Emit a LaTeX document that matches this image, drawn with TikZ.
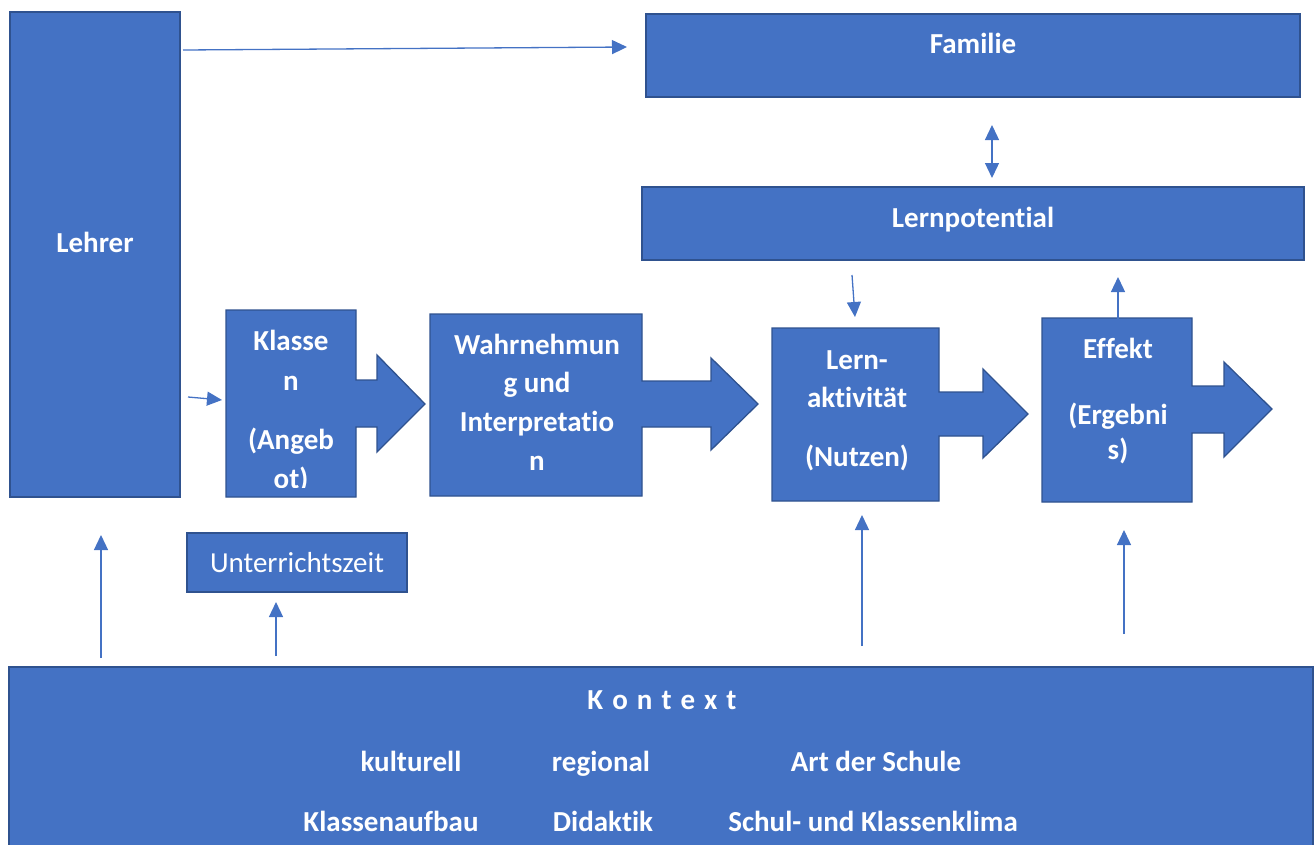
\documentclass[tikz,border=0pt]{standalone}
\usepackage{fontspec}
\setmainfont[Ligatures=NoCommon]{Carlito}
\usetikzlibrary{arrows.meta}
\definecolor{boxfill}{HTML}{4472C4}
\definecolor{boxline}{HTML}{2F528F}
\begin{document}
\begin{tikzpicture}[x=1pt,y=-1pt,
  boxst/.style={draw=boxline, fill=boxfill, line width=1.3pt},
  anchorbox/.style={inner sep=0pt, outer sep=0pt},
  lbl/.style={text=white, font=\bfseries\fontsize{29}{33}\selectfont, inner sep=0pt, text height=18pt, text depth=0pt},
  lblr/.style={text=white, font=\fontsize{29}{33}\selectfont, inner sep=0pt, text height=18pt, text depth=0pt},
  conn/.style={draw=boxfill, line width=1.3pt, -{Triangle[length=15pt,width=14pt]}},
  dconn/.style={draw=boxfill, line width=1.3pt, {Triangle[length=15pt,width=14pt]}-{Triangle[length=15pt,width=14pt]}},
]
\useasboundingbox (0,0) rectangle (1316,844);

% plain boxes
\node[boxst, anchorbox, minimum width=170pt, minimum height=485pt] (lehrer) at (95,254.5) {};
\node[lbl] (lehrerT) at (95,243) {Lehrer};

\node[boxst, anchorbox, minimum width=654pt, minimum height=83pt] (familie) at (973,55.5) {};
\node[lbl] (familieT) at (973,44) {Familie};

\node[boxst, anchorbox, minimum width=662pt, minimum height=73pt] (lernpot) at (973,223.5) {};
\node[lbl] (lernpotT) at (973,218) {Lernpotential};

\node[boxst, anchorbox, minimum width=220pt, minimum height=59pt] (unterricht) at (297,562.5) {};
\node[lblr] (unterrichtT) at (297,563) {Unterrichtszeit};

\node[boxst, anchorbox, minimum width=1304pt, minimum height=183pt] (kontext) at (661,758.5) {};
\node[lbl] (kontextT) at (662,700) {K\kern9pt o\kern9pt n\kern9pt t\kern9pt e\kern9pt x\kern9pt t};
\node[lbl] (k1) at (411,762) {kulturell};
\node[lbl] (k2) at (601,762) {regional};
\node[lbl] (k3) at (876,762) {Art der Schule};
\node[lbl] (k4) at (391,822) {Klassenaufbau};
\node[lbl] (k5) at (603,822) {Didaktik};
\node[lbl] (k6) at (873,822) {Schul- und Klassenklima};

% box-with-arrow shapes
\draw[boxst] (226,310) -- (356,310) -- (356,380) -- (377,380) -- (377,355) -- (425,404) -- (377,452) -- (377,427) -- (356,427) -- (356,497) -- (226,497) -- cycle;
\node[anchorbox, minimum width=130pt, minimum height=187pt] (klassen) at (291,403.5) {};
\begin{scope}
\clip (226,300) rectangle (356,487);
\node[lbl] (klassenT1) at (291,341) {Klasse};
\node[lbl] (klassenT2) at (291,381) {n};
\node[lbl] (klassenT3) at (291,440) {(Angeb};
\node[lbl] (klassenT4) at (291,479) {ot)};
\end{scope}

\draw[boxst] (430,314) -- (642,314) -- (642,381) -- (711,381) -- (711,358) -- (758,404) -- (711,450) -- (711,427) -- (642,427) -- (642,496) -- (430,496) -- cycle;
\node[anchorbox, minimum width=212pt, minimum height=182pt] (wahr) at (536,405) {};
\node[lbl] (wahrT1) at (537,345) {Wahrnehmun};
\node[lbl] (wahrT2) at (537,383) {g und};
\node[lbl] (wahrT3) at (537,422) {Interpretatio};
\node[lbl] (wahrT4) at (537,461) {n};

\draw[boxst] (772,328) -- (939,328) -- (939,392) -- (983,392) -- (983,369) -- (1028,414) -- (983,458) -- (983,436) -- (939,436) -- (939,501) -- (772,501) -- cycle;
\node[anchorbox, minimum width=167pt, minimum height=173pt] (lern) at (855.5,414.5) {};
\node[lbl] (lernT1) at (857,360) {Lern-};
\node[lbl] (lernT2) at (857,398) {aktivität};
\node[lbl] (lernT3) at (857,457) {(Nutzen)};

\draw[boxst] (1042,318) -- (1192,318) -- (1192,386) -- (1224,386) -- (1224,362) -- (1272,409) -- (1224,457) -- (1224,433) -- (1192,433) -- (1192,502) -- (1042,502) -- cycle;
\node[anchorbox, minimum width=150pt, minimum height=184pt] (effekt) at (1117,410) {};
\node[lbl] (effektT1) at (1118,349) {Effekt};
\node[lbl] (effektT2) at (1118,415) {(Ergebni};
\node[lbl] (effektT3) at (1118,450) {s)};

% connectors
\draw[conn] ([xshift=3pt,yshift=-38pt]lehrer.north east) -- ([xshift=-19pt,yshift=8.5pt]familie.west);
\draw[dconn] ([xshift=19pt,yshift=-28pt]familie.south) -- ([xshift=19pt,yshift=9pt]lernpot.north);
\draw[conn] ([xshift=-121pt,yshift=-15pt]lernpot.south) -- ([xshift=-0.5pt,yshift=11pt]lern.north);
\draw[conn] ([xshift=1pt,yshift=-10pt]effekt.north) -- ([xshift=145pt,yshift=-17pt]lernpot.south);
\draw[conn] ([xshift=8pt,yshift=100pt]lehrer.south east) -- ([xshift=-4pt,yshift=3.5pt]klassen.west);

\coordinate (s6) at (101,658);
\coordinate (s7) at (276,656);
\coordinate (s8) at (862,646);
\coordinate (s9) at (1124,634);
\draw[conn] (s6) -- ([yshift=-38pt]s6 |- lehrer.south);
\draw[conn] (s7) -- ([yshift=-10pt]s7 |- unterricht.south);
\draw[conn] (s8) -- ([yshift=-14pt]s8 |- lern.south);
\draw[conn] (s9) -- ([yshift=-28pt]s9 |- effekt.south);
\end{tikzpicture}
\end{document}
